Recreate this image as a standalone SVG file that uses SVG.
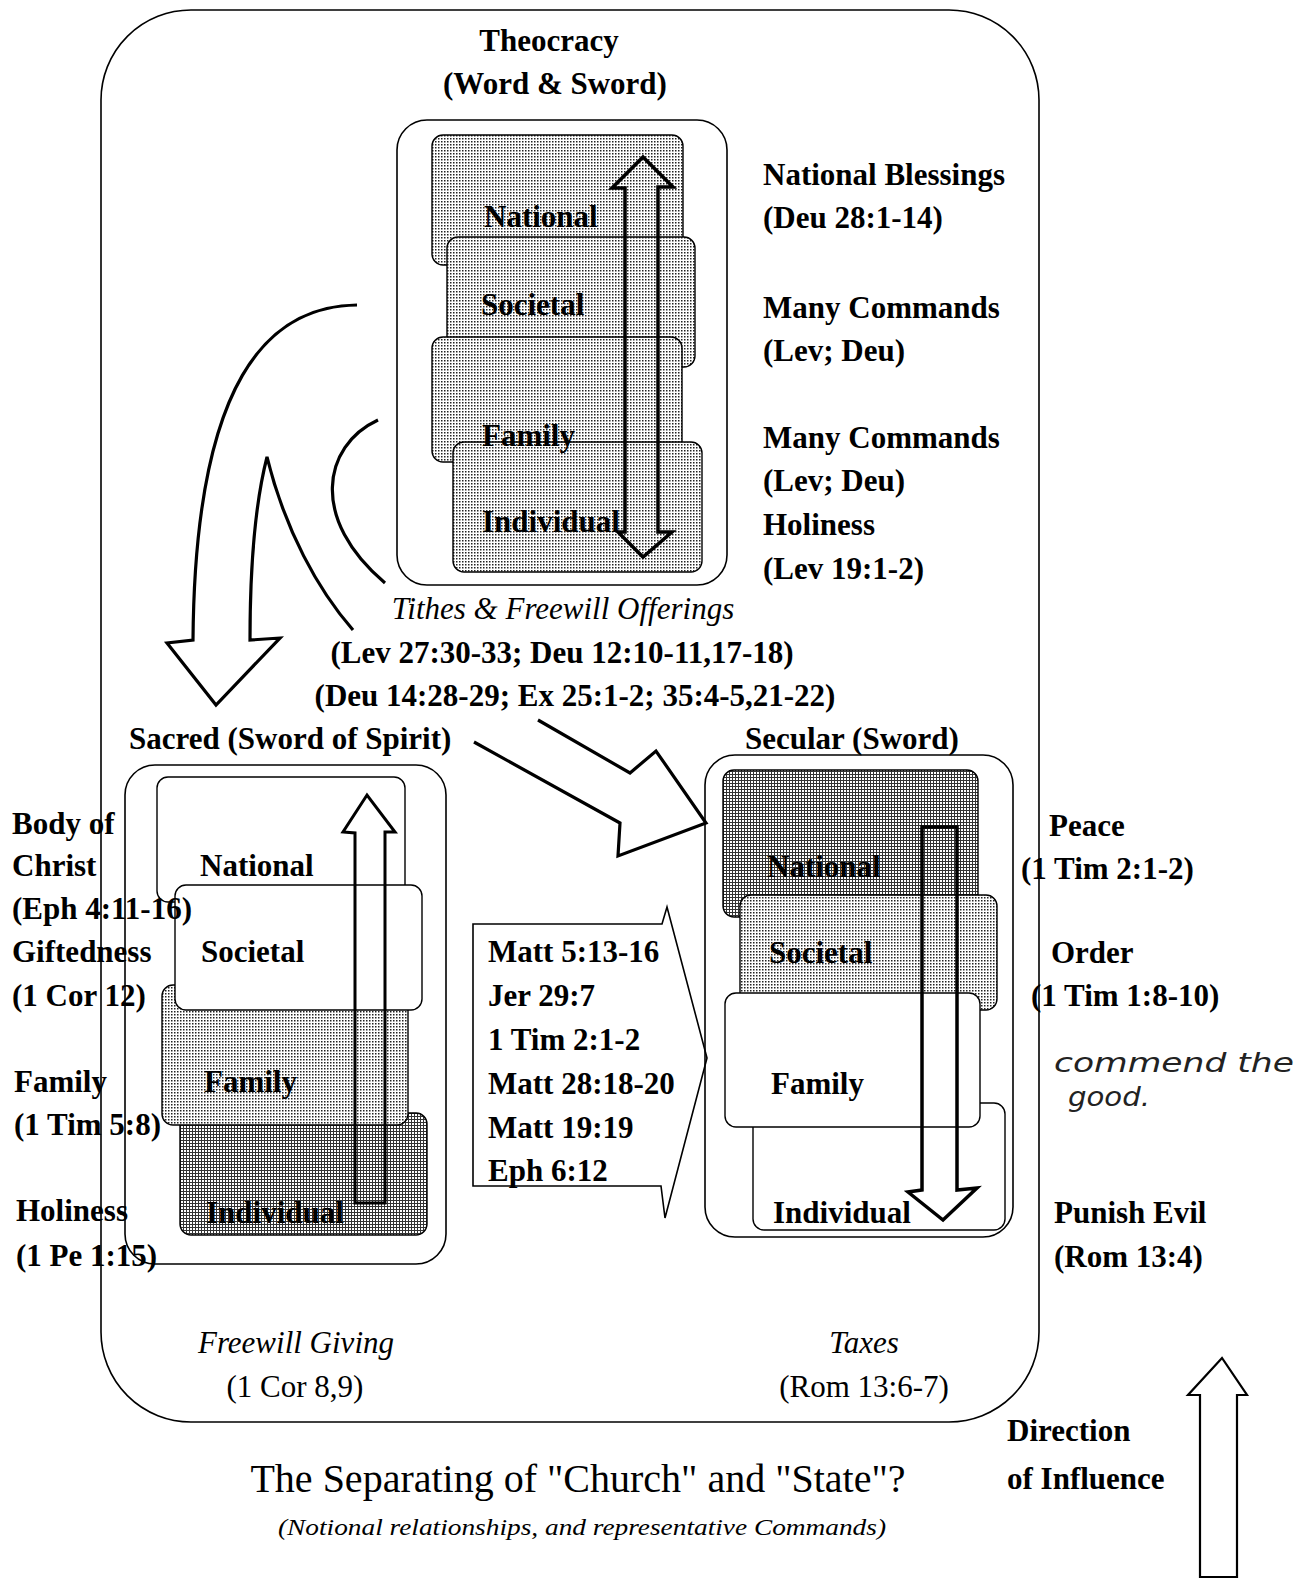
<svg xmlns="http://www.w3.org/2000/svg" width="1306" height="1579" viewBox="0 0 1306 1579">
<defs>
<pattern id="dots" width="3" height="3" patternUnits="userSpaceOnUse">
<rect width="3" height="3" fill="#fff"/>
<rect width="1.5" height="1.5" fill="#222"/>
</pattern>
<pattern id="grid" width="3" height="3" patternUnits="userSpaceOnUse">
<rect width="3" height="3" fill="#fff"/>
<rect width="3" height="1" fill="#333"/>
<rect width="1" height="3" fill="#333"/>
</pattern>
<style>
.b{font-family:"Liberation Serif","Times New Roman",serif;font-weight:bold;font-size:31px;fill:#000}
.i{font-family:"Liberation Serif","Times New Roman",serif;font-style:italic;font-size:31px;fill:#000}
.r{font-family:"Liberation Serif","Times New Roman",serif;font-size:31px;fill:#000}
.m{text-anchor:middle}
.box{fill:none;stroke:#000;stroke-width:1.6}
.card{stroke:#000;stroke-width:1.4}
.w{fill:#fff}
.d{fill:url(#dots)}
.g{fill:url(#grid)}
.arr{fill:none;stroke:#000;stroke-width:3.5;stroke-linejoin:miter}
.thin{fill:none;stroke:#000;stroke-width:1.6}
.hand{font-family:"DejaVu Sans","Liberation Sans",sans-serif;font-style:oblique;font-size:26px;fill:#222}
</style>
</defs>
<rect width="1306" height="1579" fill="#fff"/>

<g id="outer-frame">
<rect class="box" x="101" y="10" width="938" height="1412" rx="90"/>
</g>

<g id="theocracy">
<text class="b m" x="549" y="51">Theocracy</text>
<text class="b m" x="555" y="94">(Word &amp; Sword)</text>
<rect class="box" x="397" y="120" width="330" height="465" rx="30"/>
<rect class="card d" x="432" y="135" width="251" height="130" rx="11"/>
<rect class="card d" x="447" y="237" width="248" height="130" rx="11"/>
<rect class="card d" x="432" y="337" width="250" height="125" rx="11"/>
<rect class="card d" x="453" y="442" width="249" height="130" rx="11"/>
<text class="b" x="484" y="227">National</text>
<text class="b" x="481" y="315">Societal</text>
<text class="b" x="482" y="446">Family</text>
<text class="b" x="482" y="532">Individual</text>
<path class="arr" d="M625,188 L612,188 L643,157 L673,187 L658,187 L658,532 L672,532 L643,557 L618,532 L625,532 Z"/>
</g>

<g id="theocracy-notes">
<text class="b" x="763" y="185">National Blessings</text>
<text class="b" x="763" y="228">(Deu 28:1-14)</text>
<text class="b" x="763" y="318">Many Commands</text>
<text class="b" x="763" y="361">(Lev; Deu)</text>
<text class="b" x="763" y="448">Many Commands</text>
<text class="b" x="763" y="491">(Lev; Deu)</text>
<text class="b" x="763" y="535">Holiness</text>
<text class="b" x="763" y="579">(Lev 19:1-2)</text>
</g>

<g id="offerings">
<text class="i m" x="563" y="619">Tithes &amp; Freewill Offerings</text>
<text class="b m" x="562" y="663">(Lev 27:30-33; Deu 12:10-11,17-18)</text>
<text class="b m" x="575" y="706">(Deu 14:28-29; Ex 25:1-2; 35:4-5,21-22)</text>
</g>

<g id="sacred">
<text class="b" x="129" y="749">Sacred (Sword of Spirit)</text>
<rect class="box" x="125" y="765" width="321" height="499" rx="30"/>
<rect class="card g" x="180" y="1113" width="247" height="122" rx="11"/>
<rect class="card d" x="162" y="985" width="246" height="140" rx="11"/>
<rect class="card w" x="157" y="777" width="248" height="125" rx="11"/>
<rect class="card w" x="175" y="885" width="247" height="125" rx="11"/>
<text class="b" x="200" y="876">National</text>
<text class="b" x="201" y="962">Societal</text>
<text class="b" x="204" y="1092">Family</text>
<text class="b" x="206" y="1223">Individual</text>
<path class="arr" style="stroke-width:3" d="M355,1203 L355,833 L343,832 L367,795 L395,832 L385,832 L385,1203 Z"/>
</g>

<g id="sacred-notes">
<text class="b" x="12" y="834">Body of</text>
<text class="b" x="12" y="876">Christ</text>
<text class="b" x="12" y="919">(Eph 4:11-16)</text>
<text class="b" x="12" y="962">Giftedness</text>
<text class="b" x="12" y="1006">(1 Cor 12)</text>
<text class="b" x="14" y="1092">Family</text>
<text class="b" x="14" y="1135">(1 Tim 5:8)</text>
<text class="b" x="16" y="1221">Holiness</text>
<text class="b" x="16" y="1266">(1 Pe 1:15)</text>
</g>

<g id="secular">
<text class="b" x="745" y="749">Secular (Sword)</text>
<rect class="box" x="705" y="755" width="308" height="482" rx="30"/>
<rect class="card g" x="723" y="770" width="255" height="147" rx="11"/>
<rect class="card d" x="740" y="895" width="257" height="115" rx="11"/>
<rect class="card w" x="753" y="1103" width="252" height="127" rx="11"/>
<rect class="card w" x="725" y="993" width="255" height="134" rx="11"/>
<text class="b" x="767" y="877">National</text>
<text class="b" x="769" y="963">Societal</text>
<text class="b" x="771" y="1094">Family</text>
<text class="b" x="773" y="1223">Individual</text>
<path class="arr" d="M922,827 L957,827 L957,1190 L977,1188 L943,1220 L908,1192 L922,1190 Z"/>
</g>

<g id="secular-notes">
<text class="b" x="1049" y="836">Peace</text>
<text class="b" x="1021" y="879">(1 Tim 2:1-2)</text>
<text class="b" x="1051" y="963">Order</text>
<text class="b" x="1031" y="1006">(1 Tim 1:8-10)</text>
<text class="hand" x="1054" y="1072" textLength="240" lengthAdjust="spacingAndGlyphs">commend the</text>
<text class="hand" x="1068" y="1106" textLength="82" lengthAdjust="spacingAndGlyphs">good.</text>
<text class="b" x="1054" y="1223">Punish Evil</text>
<text class="b" x="1054" y="1267">(Rom 13:4)</text>
</g>

<g id="references">
<path class="thin" d="M473,924 L662,924 L667,907 L707,1058 L665,1218 L661,1186 L473,1186 Z"/>
<text class="b" x="488" y="962">Matt 5:13-16</text>
<text class="b" x="488" y="1006">Jer 29:7</text>
<text class="b" x="488" y="1050">1 Tim 2:1-2</text>
<text class="b" x="488" y="1094">Matt 28:18-20</text>
<text class="b" x="488" y="1138">Matt 19:19</text>
<text class="b" x="488" y="1181">Eph 6:12</text>
</g>

<g id="connectors">
<path class="arr" style="stroke-width:3.2" d="M357,305 C268,306 195,380 193,640 L167,643 L216,705 L280,638 L250,640 C250,560 256,500 267,457 C285,530 318,590 353,630"/>
<path class="arr" style="stroke-width:3.2" d="M378,420 C322,446 310,520 385,583"/>
<path class="arr" style="stroke-width:3.2" d="M538,720 L630,773 L656,751 L706,823 L618,856 L620,823 L474,742"/>
</g>

<g id="giving">
<text class="i m" x="296" y="1353">Freewill Giving</text>
<text class="r m" x="295" y="1397">(1 Cor 8,9)</text>
<text class="i m" x="864" y="1353">Taxes</text>
<text class="r m" x="864" y="1397">(Rom 13:6-7)</text>
</g>

<g id="title">
<text class="r m" style="font-size:40px" x="578" y="1492">The Separating of "Church" and "State"?</text>
<text class="i m" style="font-size:24px" x="582" y="1535" textLength="608" lengthAdjust="spacingAndGlyphs">(Notional relationships, and representative Commands)</text>
</g>

<g id="direction">
<text class="b" x="1007" y="1441">Direction</text>
<text class="b" x="1007" y="1489">of Influence</text>
<path class="thin" style="stroke-width:2.2" d="M1200,1577 L1200,1395 L1188,1395 L1222,1358 L1247,1395 L1237,1395 L1237,1577 Z"/>
</g>
</svg>
